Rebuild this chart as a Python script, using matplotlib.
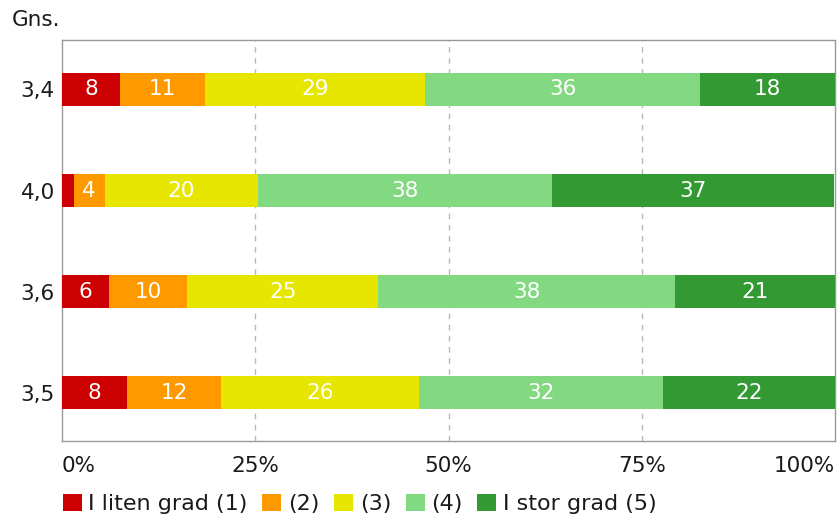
import matplotlib
matplotlib.use("Agg")
import matplotlib.pyplot as plt
from matplotlib.patches import Patch

# Data
row_labels = ["3,4", "4,0", "3,6", "3,5"]
series_names = ["I liten grad (1)", "(2)", "(3)", "(4)", "I stor grad (5)"]
s1 = [7.5, 1.5, 6.1, 8.4]
s2 = [11.0, 4.0, 10.1, 12.2]
s3 = [28.5, 19.9, 24.7, 25.6]
s4 = [35.5, 38.0, 38.4, 31.6]
s5 = [17.5, 36.5, 20.7, 22.3]
series = [s1, s2, s3, s4, s5]
colors = ["#CC0000", "#FF9900", "#E6E600", "#82D982", "#339933"]
tick_values = [0, 25, 50, 75, 100]
tick_labels = ["0%", "25%", "50%", "75%", "100%"]

FS = 15.5
plt.rcParams['font.family'] = ['DejaVu Sans']
fig = plt.figure(figsize=(8.38, 5.18), dpi=100)
ax = fig.add_axes([62/838, 1-441/518, (835-62)/838, (441-40)/518])

ypos = list(range(len(row_labels)))
left = [0.0]*len(row_labels)
for vals, col in zip(series, colors):
    ax.barh(ypos, vals, left=left, height=0.327, color=col, zorder=3, linewidth=0)
    for y, l, v in zip(ypos, left, vals):
        if v >= 3:
            ax.text(l + v/2, y, str(int(v + 0.5)), ha='center', va='center',
                    color='white', fontsize=FS, zorder=4)
    left = [a + b for a, b in zip(left, vals)]

ax.set_xlim(0, 100)
ax.set_ylim(3.48, -0.49)
ax.set_yticks(ypos)
ax.set_yticklabels(row_labels, fontsize=FS)
ax.set_xticks(tick_values)
ax.set_xticklabels(tick_labels, fontsize=FS)
xl = ax.get_xticklabels()
xl[0].set_ha('left')
xl[-1].set_ha('right')
ax.tick_params(axis='both', length=0, colors='#1a1a1a')
ax.tick_params(axis='x', pad=11)
ax.tick_params(axis='y', pad=5)
for x in [25, 50, 75]:
    ax.axvline(x, color='#B8B8B8', linestyle=(0, (4, 4)), linewidth=1.0, zorder=1)
for s in ax.spines.values():
    s.set_color('#999999')
    s.set_linewidth(1)

fig.text(12/838, 1-20/518, "Gns.", fontsize=FS, ha='left', va='center', color='#1a1a1a')

handles = [Patch(facecolor=c, edgecolor='none') for c in colors]
fig.legend(handles, series_names, loc='center left', bbox_to_anchor=(54/838, 1-504/518),
           ncol=5, frameon=False, fontsize=16, handlelength=0.85, handleheight=0.85,
           handletextpad=0.3, columnspacing=0.66, borderaxespad=0, labelcolor='#1a1a1a')

fig.savefig("out.png", dpi=100)
